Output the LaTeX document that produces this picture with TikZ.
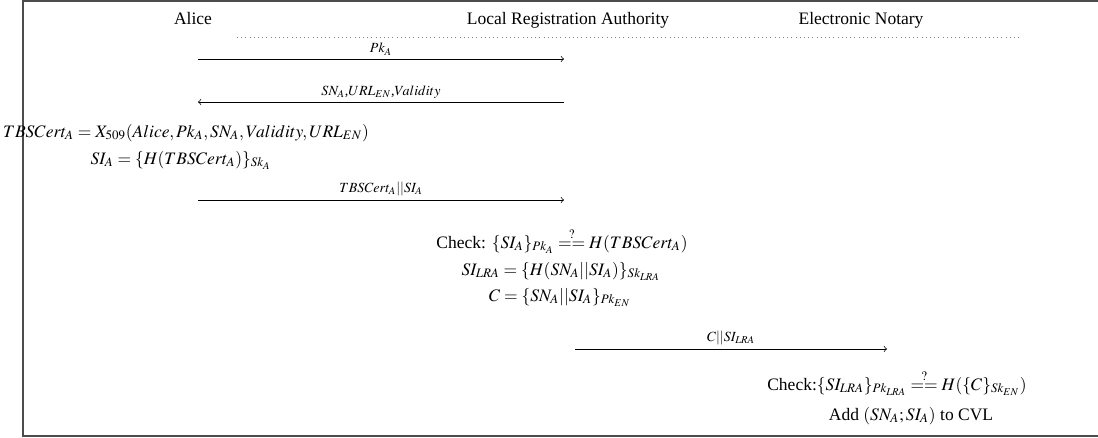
\documentclass[tikz,border=0pt]{standalone}
\usepackage{mathptmx}
\usepackage[no-math]{fontspec}
\setmainfont{Liberation Serif}
\usetikzlibrary{arrows,arrows.meta,positioning}
\tikzset{party/.style={
    % The names on top:
    inner sep=0pt,
    anchor=base,
    font=\normalsize
    },
    msg/.style={
    ->,
    >=to,
    thin,
    },
    msglabel/.style={
    font=\footnotesize,
    inner sep=2pt,
    },
    calc/.style={
    inner sep=0pt,
    anchor=base,
    },
    frame/.style={
    draw=black!70,
    line width=0.9pt,
    },
}

\begin{document}
\begin{tikzpicture}[x=0.5714pt, y=-0.5714pt]
    \useasboundingbox (0,0) rectangle (1098,437);
    \draw[frame] (1110,1) -- (23,1) -- (23,436) -- (1110,436);
    % The parties:
    \node (alice)  [party] at (193,24) {Alice};
    \node (lra)    [party] at (568,24) {Local Registration Authority};
    \node (notary) [party] at (861,24) {Electronic Notary};
    \coordinate (sepl) at (237,37);
    \coordinate (sepr) at (1020,37);
    \draw[dotted, black!50] (sepl) -- (sepr);
    % Alice <-> LRA:
    \coordinate (a1) at (198,59);
    \coordinate (l1) at (564,59);
    \coordinate (a2) at (198,102);
    \coordinate (l2) at (564,102);
    \coordinate (a3) at (198,200);
    \coordinate (l3) at (564,200);
    \draw[msg] (a1) -- node[msglabel, above] {$Pk_A$} (l1);
    \draw[msg] (l2) -- node[msglabel, above] {$SN_A$,$URL_{EN}$,$Validity$} (a2);
    \node (tbs) [calc] at (186,137) {$TBSCert_A = X_{509}(Alice,Pk_A,SN_A,Validity,URL_{EN})$};
    \node (sia) [calc] at (181,164) {$SI_A = \{H(TBSCert_A)\}_{Sk_A}$};
    \draw[msg] (a3) -- node[msglabel, above] {$TBSCert_A||SI_A$} (l3);
    % LRA:
    \node (chk1) [calc] at (562,248) {Check: $\{SI_A\}_{Pk_A} \stackrel{?}{==} H(TBSCert_A)$};
    \node (silra) [calc] at (561,275) {$SI_{LRA} = \{H(SN_A||SI_A)\}_{Sk_{LRA}}$};
    \node (cenc) [calc] at (560,301) {$C = \{SN_A||SI_A\}_{Pk_{EN}}$};
    % LRA -> Notary:
    \coordinate (l4) at (575,349);
    \coordinate (n4) at (887,349);
    \draw[msg] (l4) -- node[msglabel, above] {$C||SI_{LRA}$} (n4);
    \node (chk2) [calc] at (897,390) {Check:$\{SI_{LRA}\}_{Pk_{LRA}} \stackrel{?}{==} H(\{C\}_{Sk_{EN}})$};
    \node (cvl) [calc] at (911,420) {Add $(SN_A;SI_A)$ to CVL};
\end{tikzpicture}
\end{document}
